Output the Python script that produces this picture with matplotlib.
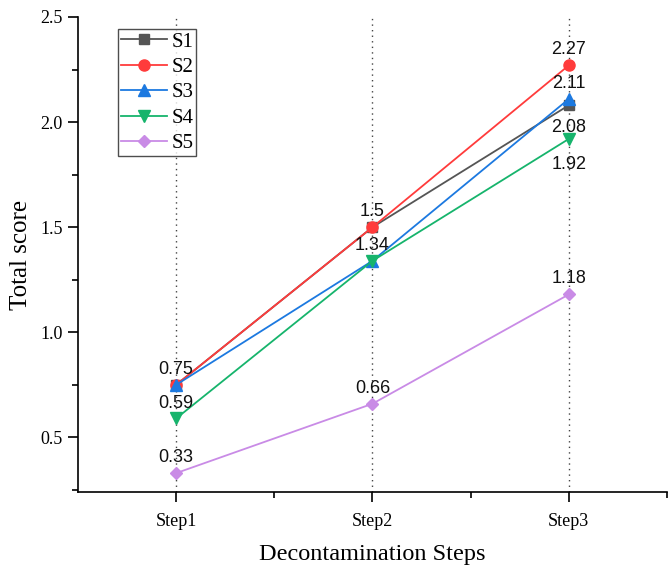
import matplotlib
matplotlib.use("Agg")
import matplotlib.pyplot as plt
from matplotlib.ticker import MultipleLocator, FixedLocator

steps = ["Step1", "Step2", "Step3"]
series_names = ["S1", "S2", "S3", "S4", "S5"]
s1 = [0.75, 1.5, 2.08]
s2 = [0.75, 1.5, 2.27]
s3 = [0.75, 1.34, 2.11]
s4 = [0.59, 1.34, 1.92]
s5 = [0.33, 0.66, 1.18]
values = [s1, s2, s3, s4, s5]
colors = ["#555555", "#FF3B3B", "#1C79E0", "#16B46C", "#C98BE6"]
markers = ["s", "o", "^", "v", "D"]
msizes = [7, 8, 8.5, 8.5, 6.5]

serif = ["Liberation Serif", "DejaVu Serif"]
sans = ["Liberation Sans", "DejaVu Sans"]

fig = plt.figure(figsize=(6.69, 5.66), dpi=100)
ax = fig.add_axes([0.1166, 0.1307, 0.8804, 0.8393])
x = [1, 2, 3]

for xi in x:
    ax.axvline(xi, color="#444444", linestyle=(0, (1, 3)), linewidth=1.0, zorder=0)

for name, vals, c, m, ms in zip(series_names, values, colors, markers, msizes):
    ax.plot(x, vals, color=c, marker=m, markersize=ms, linewidth=1.3, label=name)

# annotations: (x index, value, offset in points)
annots = [
    (0, 0.75, 5), (0, 0.59, 5), (0, 0.33, 5),
    (1, 1.5, 5), (1, 1.34, 5), (1, 0.66, 5),
    (2, 2.27, 5), (2, 2.11, 5), (2, 2.08, -10),
    (2, 1.92, -12), (2, 1.18, 5),
]
for i, v, off in annots:
    va = "bottom" if off > 0 else "top"
    ax.annotate(f"{v:g}", (x[i], v), xytext=(0, off), textcoords="offset points",
                ha="center", va=va, fontsize=13, family=sans, color="#111111")

ax.set_xlim(0.5, 3.5)
ax.set_ylim(0.24, 2.5)
ax.set_xticks(x)
ax.set_xticklabels(steps)
ax.xaxis.set_minor_locator(FixedLocator([1.5, 2.5, 3.5]))
ax.set_yticks([0.5, 1.0, 1.5, 2.0, 2.5])
ax.set_yticklabels(["0.5", "1.0", "1.5", "2.0", "2.5"])
ax.yaxis.set_minor_locator(MultipleLocator(0.25))
for lab in ax.get_xticklabels() + ax.get_yticklabels():
    lab.set_fontfamily(serif)
    lab.set_fontsize(13)
ax.tick_params(axis="both", which="major", direction="out", length=7, width=1.2)
ax.tick_params(axis="x", which="major", pad=8)
ax.tick_params(axis="y", which="major", pad=4)
ax.tick_params(axis="both", which="minor", direction="out", length=4, width=1.2)
for sp in ["top", "right"]:
    ax.spines[sp].set_visible(False)
for sp in ["left", "bottom"]:
    ax.spines[sp].set_linewidth(1.2)

ax.set_ylabel("Total score", family=serif, fontsize=18, labelpad=6)
ax.set_xlabel("Decontamination Steps", family=serif, fontsize=17.5, labelpad=10)

leg = ax.legend(loc="upper left", bbox_to_anchor=(0.068, 0.975), frameon=True, fancybox=False,
                edgecolor="#222222", prop={"family": serif, "size": 15},
                handlelength=2.2, handletextpad=0.2, labelspacing=0.28, borderpad=0.15,
                borderaxespad=0)
leg.get_frame().set_linewidth(1.0)

fig.savefig("out.png", dpi=100)
